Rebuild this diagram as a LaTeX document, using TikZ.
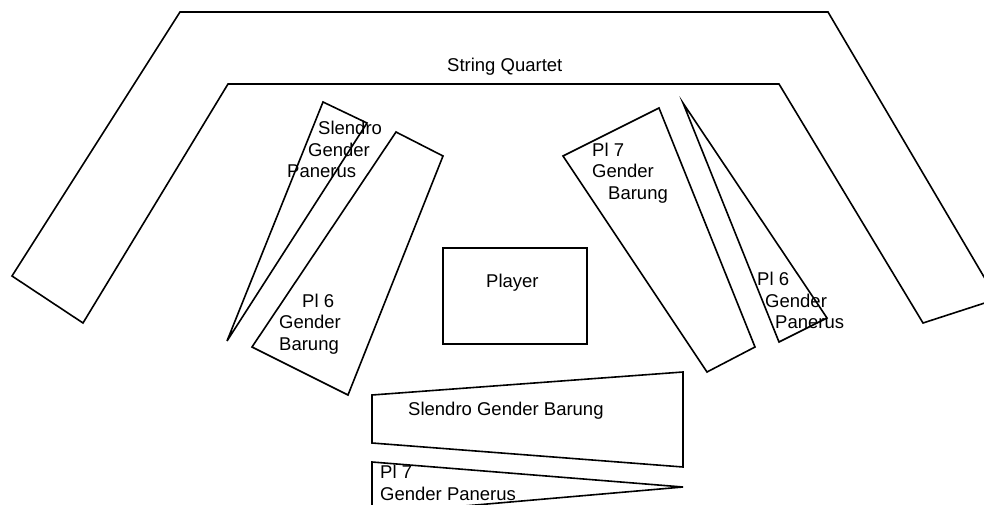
\documentclass[tikz,border=0pt]{standalone}
\usepackage{fontspec}
\setmainfont{Liberation Sans}
\begin{document}
\begin{tikzpicture}[x=1pt,y=-1pt,
  shapeline/.style={draw=black,line width=1.6pt,line join=miter},
  lbl/.style={anchor=base west,inner sep=0pt,font=\fontsize{18.5}{22}\selectfont}]
\useasboundingbox (0,0) rectangle (984,505);
% String Quartet
\draw[shapeline] (12,276) -- (180,12) -- (828,12) -- (997,299) -- (923,323) -- (779,84) -- (228,84) -- (83,323) -- cycle;
\node[lbl] (sq) at (447,72) {String Quartet};
% Slendro Gender Panerus (left triangle)
\draw[shapeline] (323,102) -- (367,123) -- (227,341) -- cycle;
\node[lbl] (sgp1) at (318,135) {Slendro};
\node[lbl] (sgp2) at (308,157) {Gender};
\node[lbl] (sgp3) at (287,178) {Panerus};
% Pl 6 Gender Barung
\draw[shapeline] (396,132) -- (443,156) -- (348,395) -- (252,347) -- cycle;
\node[lbl] (p6b1) at (302,307) {Pl 6};
\node[lbl] (p6b2) at (279,328) {Gender};
\node[lbl] (p6b3) at (279,350) {Barung};
% Player
\draw[shapeline] (443,248) rectangle (587,344);
\node[lbl] (pl) at (486,287) {Player};
% Pl 7 Gender Barung
\draw[shapeline] (563,156) -- (659,108) -- (755,347) -- (707,372) -- cycle;
\node[lbl] (p7b1) at (592,157) {Pl 7};
\node[lbl] (p7b2) at (592,178) {Gender};
\node[lbl] (p7b3) at (608,200) {Barung};
% Pl 6 Gender Panerus (right triangle)
\draw[shapeline] (683,103) -- (827,318) -- (779,342) -- cycle;
\node[lbl] (p6p1) at (757,285) {Pl 6};
\node[lbl] (p6p2) at (765,307) {Gender};
\node[lbl] (p6p3) at (775,328) {Panerus};
% Slendro Gender Barung
\draw[shapeline] (372,395) -- (683,372) -- (683,467) -- (372,443) -- cycle;
\node[lbl] (sgb) at (408,415) {Slendro Gender Barung};
% Pl 7 Gender Panerus
\draw[shapeline] (372,462) -- (683,487) -- (372,514) -- cycle;
\node[lbl] (p7p1) at (380,478) {Pl 7};
\node[lbl] (p7p2) at (380,500) {Gender Panerus};
\end{tikzpicture}
\end{document}
